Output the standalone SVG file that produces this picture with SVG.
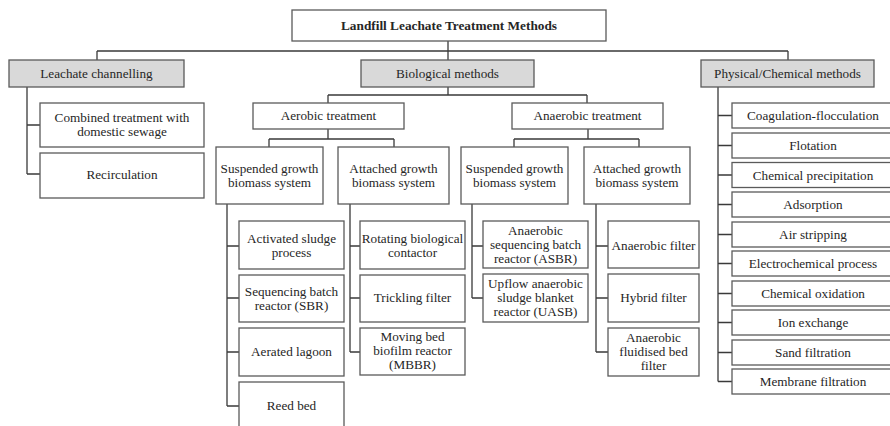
<svg xmlns="http://www.w3.org/2000/svg" width="890" height="426" viewBox="0 0 890 426">
  <style>
    .box { fill: #ffffff; stroke: #5a5a5a; stroke-width: 1.3; }
    .grey { fill: #d9d9d9; stroke: #5a5a5a; stroke-width: 1.3; }
    .lbl { font-family: "Liberation Serif", "Times New Roman", "DejaVu Serif", serif; font-size: 13.2px; fill: #262626; text-anchor: middle; }
    .title { font-weight: bold; font-size: 13.3px; }
    .link { fill: none; stroke: #3a3a3a; stroke-width: 1.3; }
  </style>
  <rect width="890" height="426" fill="#ffffff"/>

  <g id="connectors">
    <path class="link" d="M448,41 V51 M97,51 H788 M97,51 V60 M448,51 V60 M788,51 V60"/>
    <path class="link" d="M27,87 V174 M27,125 H40 M27,174 H40"/>
    <path class="link" d="M448,87 V95 M328,95 H587 M328,95 V103 M587,95 V103"/>
    <path class="link" d="M328,129 V139 M269,139 H394 M269,139 V147 M394,139 V147"/>
    <path class="link" d="M588,129 V139 M514,139 H639 M514,139 V147 M639,139 V147"/>
    <path class="link" d="M227,204 V406 M227,246 H239 M227,298 H239 M227,352 H239 M227,406 H239"/>
    <path class="link" d="M350,204 V352 M350,246 H360 M350,298 H360 M350,352 H360"/>
    <path class="link" d="M472,204 V298 M472,246 H483 M472,298 H483"/>
    <path class="link" d="M596,204 V352 M596,246 H608 M596,298 H608 M596,352 H608"/>
    <path class="link" d="M718,87 V381.5 M718,115.5 H732 M718,145.5 H732 M718,175 H732 M718,204.5 H732 M718,234.5 H732 M718,263.5 H732 M718,293.5 H732 M718,322.5 H732 M718,352.5 H732 M718,381.5 H732"/>
  </g>

  <g id="root">
    <rect class="box" x="292" y="10" width="314" height="31"/>
    <text class="lbl title" x="449" y="30">Landfill Leachate Treatment Methods</text>
  </g>

  <g id="leachate-channelling">
    <rect class="grey" x="9" y="60" width="175" height="27"/>
    <text class="lbl" x="96.5" y="78">Leachate channelling</text>
  </g>
  <g id="biological-methods">
    <rect class="grey" x="361" y="60" width="173" height="27"/>
    <text class="lbl" x="447.5" y="78">Biological methods</text>
  </g>
  <g id="physical-chemical-methods">
    <rect class="grey" x="701" y="60" width="173" height="27"/>
    <text class="lbl" x="787.5" y="78">Physical/Chemical methods</text>
  </g>

  <g id="combined-treatment">
    <rect class="box" x="40" y="103" width="164" height="44"/>
    <text class="lbl" x="122" y="122">Combined treatment with</text>
    <text class="lbl" x="122" y="136">domestic sewage</text>
  </g>
  <g id="recirculation">
    <rect class="box" x="40" y="153" width="164" height="45"/>
    <text class="lbl" x="122" y="179">Recirculation</text>
  </g>

  <g id="aerobic-treatment">
    <rect class="box" x="253" y="103" width="151" height="26"/>
    <text class="lbl" x="328.5" y="120">Aerobic treatment</text>
  </g>
  <g id="anaerobic-treatment">
    <rect class="box" x="512" y="103" width="151" height="26"/>
    <text class="lbl" x="587.5" y="120">Anaerobic treatment</text>
  </g>

  <g id="aerobic-suspended">
    <rect class="box" x="216" y="147" width="107" height="57"/>
    <text class="lbl" x="269.5" y="173">Suspended growth</text>
    <text class="lbl" x="269.5" y="187">biomass system</text>
  </g>
  <g id="aerobic-attached">
    <rect class="box" x="338" y="147" width="111" height="57"/>
    <text class="lbl" x="393.5" y="173">Attached growth</text>
    <text class="lbl" x="393.5" y="187">biomass system</text>
  </g>
  <g id="anaerobic-suspended">
    <rect class="box" x="461" y="147" width="107" height="57"/>
    <text class="lbl" x="514.5" y="173">Suspended growth</text>
    <text class="lbl" x="514.5" y="187">biomass system</text>
  </g>
  <g id="anaerobic-attached">
    <rect class="box" x="584" y="147" width="106" height="57"/>
    <text class="lbl" x="637" y="173">Attached growth</text>
    <text class="lbl" x="637" y="187">biomass system</text>
  </g>

  <g id="activated-sludge">
    <rect class="box" x="239" y="221" width="105" height="48"/>
    <text class="lbl" x="291.5" y="243">Activated sludge</text>
    <text class="lbl" x="291.5" y="257">process</text>
  </g>
  <g id="sbr">
    <rect class="box" x="239" y="275" width="105" height="47"/>
    <text class="lbl" x="291.5" y="296">Sequencing batch</text>
    <text class="lbl" x="291.5" y="310">reactor (SBR)</text>
  </g>
  <g id="aerated-lagoon">
    <rect class="box" x="239" y="328" width="105" height="48"/>
    <text class="lbl" x="291.5" y="356">Aerated lagoon</text>
  </g>
  <g id="reed-bed">
    <rect class="box" x="239" y="382" width="105" height="50"/>
    <text class="lbl" x="291.5" y="410">Reed bed</text>
  </g>

  <g id="rotating-contactor">
    <rect class="box" x="360" y="221" width="105" height="48"/>
    <text class="lbl" x="412.5" y="243">Rotating biological</text>
    <text class="lbl" x="412.5" y="257">contactor</text>
  </g>
  <g id="trickling-filter">
    <rect class="box" x="360" y="275" width="105" height="47"/>
    <text class="lbl" x="412.5" y="302">Trickling filter</text>
  </g>
  <g id="mbbr">
    <rect class="box" x="360" y="328" width="105" height="47"/>
    <text class="lbl" x="412.5" y="341">Moving bed</text>
    <text class="lbl" x="412.5" y="355">biofilm reactor</text>
    <text class="lbl" x="412.5" y="369">(MBBR)</text>
  </g>

  <g id="asbr">
    <rect class="box" x="483" y="221" width="105" height="47"/>
    <text class="lbl" x="535.5" y="235">Anaerobic</text>
    <text class="lbl" x="535.5" y="249">sequencing batch</text>
    <text class="lbl" x="535.5" y="263">reactor (ASBR)</text>
  </g>
  <g id="uasb">
    <rect class="box" x="483" y="274" width="105" height="48"/>
    <text class="lbl" x="535.5" y="288">Upflow anaerobic</text>
    <text class="lbl" x="535.5" y="302">sludge blanket</text>
    <text class="lbl" x="535.5" y="316">reactor (UASB)</text>
  </g>

  <g id="anaerobic-filter">
    <rect class="box" x="608" y="221" width="91" height="47"/>
    <text class="lbl" x="653.5" y="250">Anaerobic filter</text>
  </g>
  <g id="hybrid-filter">
    <rect class="box" x="608" y="274" width="91" height="48"/>
    <text class="lbl" x="653.5" y="302">Hybrid filter</text>
  </g>
  <g id="fluidised-bed-filter">
    <rect class="box" x="608" y="328" width="91" height="48"/>
    <text class="lbl" x="653.5" y="342">Anaerobic</text>
    <text class="lbl" x="653.5" y="356">fluidised bed</text>
    <text class="lbl" x="653.5" y="370">filter</text>
  </g>

  <g id="coagulation-flocculation">
    <rect class="box" x="732" y="103" width="162" height="25"/>
    <text class="lbl" x="813" y="120">Coagulation-flocculation</text>
  </g>
  <g id="flotation">
    <rect class="box" x="732" y="133" width="162" height="25"/>
    <text class="lbl" x="813" y="150">Flotation</text>
  </g>
  <g id="chemical-precipitation">
    <rect class="box" x="732" y="162.5" width="162" height="25"/>
    <text class="lbl" x="813" y="179.5">Chemical precipitation</text>
  </g>
  <g id="adsorption">
    <rect class="box" x="732" y="192" width="162" height="25"/>
    <text class="lbl" x="813" y="209">Adsorption</text>
  </g>
  <g id="air-stripping">
    <rect class="box" x="732" y="222" width="162" height="25"/>
    <text class="lbl" x="813" y="239">Air stripping</text>
  </g>
  <g id="electrochemical-process">
    <rect class="box" x="732" y="251" width="162" height="25"/>
    <text class="lbl" x="813" y="268">Electrochemical process</text>
  </g>
  <g id="chemical-oxidation">
    <rect class="box" x="732" y="281" width="162" height="25"/>
    <text class="lbl" x="813" y="298">Chemical oxidation</text>
  </g>
  <g id="ion-exchange">
    <rect class="box" x="732" y="310" width="162" height="25"/>
    <text class="lbl" x="813" y="327">Ion exchange</text>
  </g>
  <g id="sand-filtration">
    <rect class="box" x="732" y="340" width="162" height="25"/>
    <text class="lbl" x="813" y="357">Sand filtration</text>
  </g>
  <g id="membrane-filtration">
    <rect class="box" x="732" y="369" width="162" height="25"/>
    <text class="lbl" x="813" y="386">Membrane filtration</text>
  </g>
</svg>
